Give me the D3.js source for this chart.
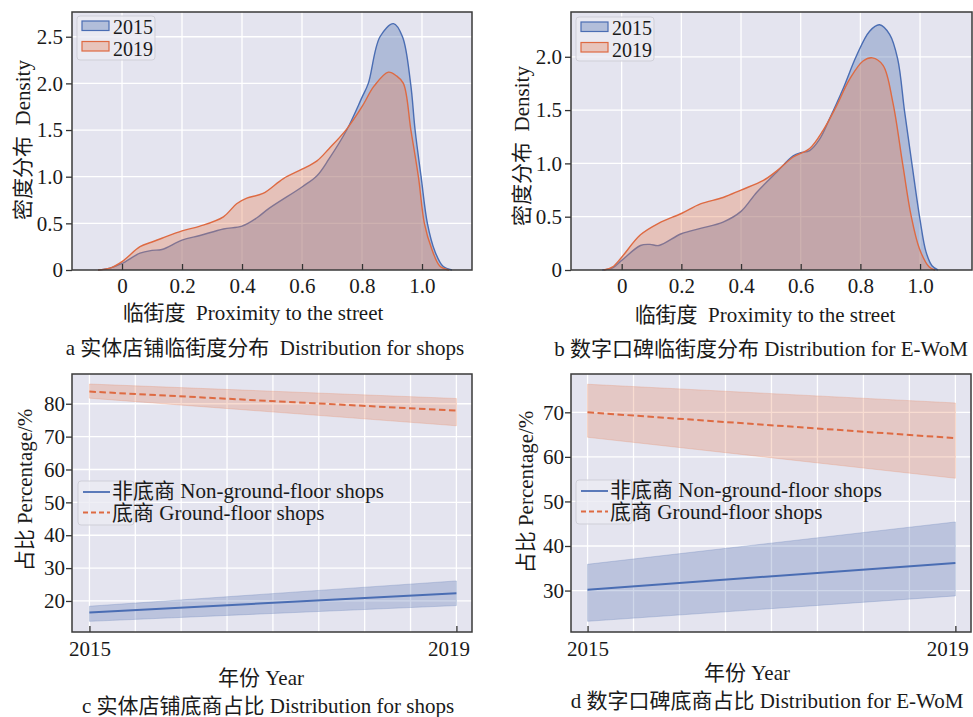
<!DOCTYPE html>
<html>
<head>
<meta charset="utf-8">
<script src="https://cdn.jsdelivr.net/npm/d3@7"></script>
<style>
  body { margin: 0; background: #fff; }
  svg text { font-family: "Liberation Serif", "Noto Sans CJK SC", serif; fill: #1a1a1a; white-space: pre; }
</style>
</head>
<body>
<div id="chart"></div>
<script>
// --- data ---
// kernel density of proximity to the street, [proximity, density]
const shops2015 = [[-0.08,0],[-0.04,0.02],[0,0.07],[0.06,0.18],[0.1,0.21],[0.133,0.22],[0.2,0.32],[0.26,0.37],[0.338,0.44],[0.4,0.47],[0.45,0.56],[0.49,0.66],[0.6,0.89],[0.65,1.01],[0.69,1.19],[0.749,1.5],[0.8,1.85],[0.821,2.0],[0.86,2.5],[0.905,2.64],[0.935,2.5],[0.962,2.0],[0.977,1.5],[0.997,1.0],[1.018,0.5],[1.043,0.2],[1.07,0.04],[1.1,0]];
const shops2019 = [[-0.08,0],[-0.04,0.02],[0,0.09],[0.06,0.25],[0.1,0.3],[0.133,0.34],[0.2,0.42],[0.26,0.47],[0.338,0.57],[0.382,0.71],[0.416,0.77],[0.47,0.82],[0.538,0.98],[0.6,1.08],[0.65,1.17],[0.69,1.3],[0.749,1.51],[0.8,1.75],[0.84,1.97],[0.888,2.12],[0.915,2.08],[0.938,2.0],[0.963,1.5],[0.988,1.0],[1.008,0.5],[1.032,0.23],[1.06,0.04],[1.09,0]];
const ewom2015 = [[-0.065,0],[-0.03,0.02],[0,0.09],[0.063,0.23],[0.095,0.24],[0.125,0.23],[0.2,0.34],[0.264,0.39],[0.34,0.45],[0.4,0.55],[0.453,0.73],[0.52,0.92],[0.575,1.07],[0.6,1.1],[0.63,1.12],[0.664,1.23],[0.697,1.42],[0.742,1.7],[0.787,2.01],[0.831,2.24],[0.864,2.3],[0.898,2.21],[0.925,1.98],[0.948,1.49],[0.973,0.99],[1.0,0.47],[1.02,0.17],[1.04,0.04],[1.06,0]];
const ewom2019 = [[-0.06,0],[-0.03,0.03],[0,0.12],[0.063,0.33],[0.125,0.44],[0.2,0.53],[0.264,0.62],[0.34,0.68],[0.4,0.75],[0.475,0.84],[0.52,0.93],[0.575,1.06],[0.63,1.14],[0.675,1.31],[0.72,1.54],[0.764,1.79],[0.809,1.96],[0.84,1.99],[0.876,1.92],[0.909,1.57],[0.942,0.99],[0.97,0.51],[0.998,0.2],[1.03,0.03],[1.05,0]];

// ground-floor share, per year: mean, lower, upper
const years = [2015, 2019];
const shopsGround = [83.7, 77.9], shopsGroundLo = [81.7, 73.3], shopsGroundHi = [86.0, 81.6];
const shopsUpper = [16.5, 22.35], shopsUpperLo = [13.8, 18.6], shopsUpperHi = [18.4, 26.1];
const ewomGround = [70.0, 64.2], ewomGroundLo = [64.4, 55.2], ewomGroundHi = [76.3, 72.1];
const ewomUpper = [30.2, 36.2], ewomUpperLo = [23.1, 28.8], ewomUpperHi = [35.9, 45.4];

const kdeXTicks = [0, 0.2, 0.4, 0.6, 0.8, 1.0];
const shopsDensityTicks = [0, 0.5, 1.0, 1.5, 2.0, 2.5];
const ewomDensityTicks = [0, 0.5, 1.0, 1.5, 2.0];
const shopsPctTicks = [20, 30, 40, 50, 60, 70, 80];
const ewomPctTicks = [30, 40, 50, 60, 70];
const yearLegend = ["2015", "2019"];
const floorLegend = ["非底商 Non-ground-floor shops", "底商 Ground-floor shops"];

// --- style ---
const BLUE = "#4a6db3", ORANGE = "#de6a42";
const BLUE_FILL = "#5171b0", ORANGE_FILL = "#e6825a";
const BG = "#e4e4ef";
const FS = 21;

const svg = d3.select("#chart").append("svg")
  .attr("width", 973).attr("height", 717);

const fmtDensity = d => d === 0 ? "0" : d3.format(".1f")(d);

function frame(g, x, y) {
  const [x0, x1] = x.range(), [y1, y0] = y.range();
  g.append("rect").attr("x", x0).attr("y", y0).attr("width", x1 - x0).attr("height", y1 - y0)
    .attr("fill", BG);
}

function grid(g, x, y, xs, ys) {
  const [x0, x1] = x.range(), [y1, y0] = y.range();
  g.append("g").selectAll("line").data(xs).join("line")
    .attr("x1", d => x(d)).attr("x2", d => x(d)).attr("y1", y0).attr("y2", y1)
    .attr("stroke", "#fff").attr("stroke-width", 1.3);
  g.append("g").selectAll("line").data(ys).join("line")
    .attr("x1", x0).attr("x2", x1).attr("y1", d => y(d)).attr("y2", d => y(d))
    .attr("stroke", "#fff").attr("stroke-width", 1.3);
}

function axes(g, x, y, xTicks, yTicks, xFmt, yFmt, yPad, xPad) {
  const [x0, x1] = x.range(), [y1, y0] = y.range();
  const ax = g.append("g").attr("transform", `translate(0,${y1})`)
    .call(d3.axisBottom(x).tickValues(xTicks).tickFormat(xFmt).tickSizeInner(-6).tickSizeOuter(0).tickPadding(xPad));
  const ay = g.append("g").attr("transform", `translate(${x0},0)`)
    .call(d3.axisLeft(y).tickValues(yTicks).tickFormat(yFmt).tickSizeInner(6).tickSizeOuter(0).tickPadding(yPad));
  [ax, ay].forEach(a => {
    a.select(".domain").remove();
    a.selectAll(".tick line").attr("stroke", "#333").attr("stroke-width", 1.3);
    a.selectAll("text").attr("font-size", FS).attr("font-family", null).attr("fill", "#1a1a1a");
  });
  g.append("rect").attr("x", x0).attr("y", y0).attr("width", x1 - x0).attr("height", y1 - y0)
    .attr("fill", "none").attr("stroke", "#3a3a3a").attr("stroke-width", 1.5);
  return ax;
}

function text(g, str, x, y, rotate) {
  const t = g.append("text").attr("font-size", FS).attr("text-anchor", "middle").text(str);
  if (rotate) t.attr("transform", `translate(${x},${y}) rotate(-90)`).attr("dy", "0.35em");
  else t.attr("x", x).attr("y", y);
  return t;
}

function kdePanel(cfg) {
  const g = svg.append("g");
  const x = d3.scaleLinear().domain(cfg.xDomain).range([cfg.left, cfg.right]);
  const y = d3.scaleLinear().domain(cfg.yDomain).range([cfg.bottom, cfg.top]);
  frame(g, x, y);
  grid(g, x, y, kdeXTicks, cfg.yTicks.slice(1));
  const curve = d3.curveCatmullRom.alpha(0.5);
  const area = d3.area().x(d => x(d[0])).y0(y(0)).y1(d => y(Math.max(0, d[1]))).curve(curve);
  const line = d3.line().x(d => x(d[0])).y(d => y(d[1])).curve(curve);
  [[cfg.s2015, BLUE, BLUE_FILL], [cfg.s2019, ORANGE, ORANGE_FILL]].forEach(([s, c, f]) => {
    g.append("path").datum(s).attr("d", area).attr("fill", f).attr("fill-opacity", 0.36);
    g.append("path").datum(s).attr("d", line).attr("fill", "none").attr("stroke", c).attr("stroke-width", 1.4);
  });
  axes(g, x, y, kdeXTicks, cfg.yTicks, fmtDensity, fmtDensity, 3, 8);

  // legend
  const L = cfg.legend;
  g.append("rect").attr("x", L.x).attr("y", L.y).attr("width", 78).attr("height", 44).attr("rx", 3)
    .attr("fill", "#ebebf3").attr("fill-opacity", 0.8).attr("stroke", "#cfcfd8");
  [[BLUE, BLUE_FILL], [ORANGE, ORANGE_FILL]].forEach(([c, f], i) => {
    g.append("rect").attr("x", L.x + 5).attr("y", L.y + 5 + i * 20.5).attr("width", 27).attr("height", 9.5)
      .attr("fill", f).attr("fill-opacity", 0.36).attr("stroke", c).attr("stroke-width", 1.2);
    g.append("text").attr("x", L.x + 36).attr("y", L.y + 18 + i * 22).attr("font-size", 20).text(yearLegend[i]);
  });

  text(g, cfg.xLabel, cfg.xLabelPos[0], cfg.xLabelPos[1]);
  text(g, cfg.yLabel, cfg.yLabelPos[0], cfg.yLabelPos[1], true);
  text(g, cfg.caption, cfg.captionPos[0], cfg.captionPos[1]);
}

function trendPanel(cfg) {
  const g = svg.append("g");
  const x = d3.scaleLinear().domain(cfg.xDomain).range([cfg.left, cfg.right]);
  const y = d3.scaleLinear().domain(cfg.yDomain).range([cfg.bottom, cfg.top]);
  frame(g, x, y);
  grid(g, x, y, d3.range(years[0], years[1] + 0.01, 0.5), cfg.yTicks);
  const band = d3.area().x((d, i) => x(years[i])).y0(d => y(d[0])).y1(d => y(d[1]));
  const line = d3.line().x((d, i) => x(years[i])).y(d => y(d));
  const series = [
    {mean: cfg.upper, lo: cfg.upperLo, hi: cfg.upperHi, c: BLUE, f: BLUE_FILL, dash: null},
    {mean: cfg.ground, lo: cfg.groundLo, hi: cfg.groundHi, c: ORANGE, f: ORANGE_FILL, dash: "6.5,3.5"}
  ];
  series.forEach(s => {
    const bandData = s.lo.map((v, i) => [v, s.hi[i]]);
    g.append("path").datum(bandData).attr("d", band)
      .attr("fill", s.f).attr("fill-opacity", 0.28).attr("stroke", s.f).attr("stroke-opacity", 0.25);
    g.append("path").datum(s.mean).attr("d", line).attr("fill", "none")
      .attr("stroke", s.c).attr("stroke-width", 2).attr("stroke-dasharray", s.dash);
  });
  const ax = axes(g, x, y, years, cfg.yTicks, d3.format("d"), d3.format("d"), 1, 9);
  ax.selectAll(".tick text").filter(d => d === years[1]).attr("dx", -8);

  // legend
  const L = cfg.legend;
  g.append("rect").attr("x", L.x).attr("y", L.y).attr("width", 56).attr("height", 44).attr("rx", 3)
    .attr("fill", "#ebebf3").attr("fill-opacity", 0.8).attr("stroke", "#cfcfd8");
  series.forEach((s, i) => {
    const yy = L.y + 11 + i * 20.5;
    g.append("line").attr("x1", L.x + 5).attr("x2", L.x + 32).attr("y1", yy).attr("y2", yy)
      .attr("stroke", s.c).attr("stroke-width", 1.8).attr("stroke-dasharray", s.dash ? "5,3" : null);
    g.append("text").attr("x", L.x + 34).attr("y", L.y + 16.5 + i * 22).attr("font-size", FS).text(floorLegend[i]);
  });

  text(g, "年份 Year", cfg.xLabelPos[0], cfg.xLabelPos[1]);
  text(g, "占比 Percentage/%", cfg.yLabelPos[0], cfg.yLabelPos[1], true);
  text(g, cfg.caption, cfg.captionPos[0], cfg.captionPos[1]);
}

kdePanel({
  left: 72, right: 472, top: 12, bottom: 270,
  xDomain: [-0.1667, 1.1667], yDomain: [0, 2.765], yTicks: shopsDensityTicks,
  s2015: shops2015, s2019: shops2019,
  legend: {x: 77, y: 16},
  xLabel: "临街度  Proximity to the street", xLabelPos: [253, 320],
  yLabel: "密度分布  Density", yLabelPos: [23, 140],
  caption: "a 实体店铺临街度分布  Distribution for shops", captionPos: [265, 355]
});

kdePanel({
  left: 571, right: 972, top: 12, bottom: 270,
  xDomain: [-0.1698, 1.1741], yDomain: [0, 2.42], yTicks: ewomDensityTicks,
  s2015: ewom2015, s2019: ewom2019,
  legend: {x: 576, y: 17},
  xLabel: "临街度  Proximity to the street", xLabelPos: [765, 322],
  yLabel: "密度分布  Density", yLabelPos: [522, 146],
  caption: "b 数字口碑临街度分布 Distribution for E-WoM", captionPos: [761, 356]
});

trendPanel({
  left: 72, right: 472, top: 374, bottom: 632,
  xDomain: [2014.81, 2019.17], yDomain: [10.56, 89.05], yTicks: shopsPctTicks,
  ground: shopsGround, groundLo: shopsGroundLo, groundHi: shopsGroundHi,
  upper: shopsUpper, upperLo: shopsUpperLo, upperHi: shopsUpperHi,
  legend: {x: 78, y: 481},
  xLabelPos: [261, 685], yLabelPos: [25, 490],
  caption: "c 实体店铺底商占比 Distribution for shops", captionPos: [268, 713]
});

trendPanel({
  left: 571, right: 971, top: 374, bottom: 632,
  xDomain: [2014.82, 2019.17], yDomain: [20.7, 78.6], yTicks: ewomPctTicks,
  ground: ewomGround, groundLo: ewomGroundLo, groundHi: ewomGroundHi,
  upper: ewomUpper, upperLo: ewomUpperLo, upperHi: ewomUpperHi,
  legend: {x: 576, y: 480},
  xLabelPos: [747, 680], yLabelPos: [526, 492],
  caption: "d 数字口碑底商占比 Distribution for E-WoM", captionPos: [767, 708]
});
</script>
</body>
</html>
